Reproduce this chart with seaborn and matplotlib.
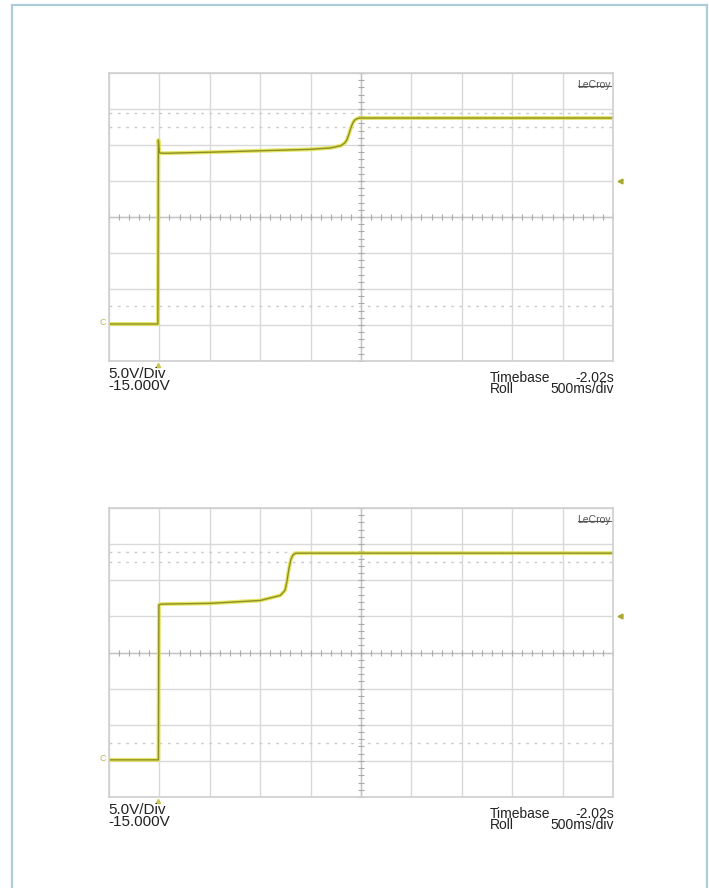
import numpy as np
import matplotlib
matplotlib.use("Agg")
import matplotlib.pyplot as plt
from matplotlib.patches import Rectangle
import seaborn as sns

sns.set_style("white")
plt.rcParams["font.family"] = ["Liberation Sans", "DejaVu Sans"]

# trace 1 (top screen), time in s, voltage in V
t_top = [0.0, 0.485, 0.49, 0.50, 0.55, 1.0, 1.5, 2.0, 2.2, 2.30, 2.34, 2.36, 2.38, 2.40, 2.42, 2.44, 2.47, 2.5, 5.0]
v_top = [0.14, 0.14, 25.7, 23.9, 23.85, 24.0, 24.2, 24.4, 24.6, 24.9, 25.3, 25.7, 26.5, 27.4, 28.1, 28.5, 28.7, 28.75, 28.75]

# trace 2 (bottom screen)
t_bot = [0.0, 0.49, 0.495, 0.52, 1.0, 1.5, 1.70, 1.746, 1.765, 1.785, 1.805, 1.825, 1.855, 5.0]
v_bot = [0.14, 0.14, 21.6, 21.7, 21.8, 22.2, 22.9, 23.6, 24.8, 26.6, 27.9, 28.5, 28.75, 28.75]

# cursor / reference dotted levels
ref_top = [29.5, 27.5, 2.6]
ref_bot = [28.9, 27.5, 2.5]
trig_level = 20.0

volts_div = "5.0V/Div"
offset_txt = "-15.000V"
timebase_txt = ("Timebase", "-2.02s")
roll_txt = ("Roll", "500ms/div")

W, H = 709, 888
fig = plt.figure(figsize=(W / 100, H / 100), dpi=100)


def fx(px):
    return px / W


def fy(py):
    return 1 - py / H


# outer light-blue frame
fig.patches.append(Rectangle((fx(12), -0.05), fx(707) - fx(12), fy(5) + 0.05,
                             transform=fig.transFigure, fill=False,
                             edgecolor="#aecbdb", lw=1.6))


def scope(top_px, bot_px, t, v, refs):
    ax = fig.add_axes([fx(109), fy(bot_px), fx(613) - fx(109), fy(top_px) - fy(bot_px)])
    ax.set_xlim(0, 5)
    ax.set_ylim(-5, 35)
    ax.set_xticks(np.arange(0, 5.01, 0.5))
    ax.set_yticks(np.arange(-5, 35.1, 5))
    ax.tick_params(length=0, labelbottom=False, labelleft=False)
    ax.grid(True, color="#d9d9d9", lw=1)
    for s in ax.spines.values():
        s.set_color("#cfcfcf")
        s.set_linewidth(1.2)
    # centre cross with small ticks
    ax.axhline(15, color="#c4c4c4", lw=1)
    ax.axvline(2.5, color="#c4c4c4", lw=1)
    ax.plot(np.arange(0, 5.01, 0.1), np.full(51, 15.0), ls="", marker="|", ms=4, color="#aaaaaa", mew=0.8)
    ax.plot(np.full(41, 2.5), np.arange(-5, 35.1, 1.0), ls="", marker="_", ms=4, color="#aaaaaa", mew=0.8)
    for r in refs:
        ax.axhline(r, color="#cbcbcb", lw=1, ls=(0, (2, 4)))
    # trace
    sns.lineplot(x=t, y=v, ax=ax, color="#e2e24a", lw=2.8, alpha=0.85, estimator=None, sort=False)
    sns.lineplot(x=t, y=v, ax=ax, color="#8e8e26", lw=1.0, estimator=None, sort=False)
    # markers
    ax.text(-0.065, 0.3, "C", color="#b8b860", fontsize=6.5, ha="center", va="center", clip_on=False)
    ax.plot([t[1]], [-5.5], marker="^", ms=3, color="#c8c850", clip_on=False)
    ax.plot([5.07], [trig_level], marker="<", ms=3.5, color="#a8a830", clip_on=False)
    # LeCroy badge
    ax.text(0.996, 0.975, "LeCroy", transform=ax.transAxes, ha="right", va="top",
            fontsize=7.5, color="#555555")
    ax.plot([0.931, 0.996], [0.955, 0.955], transform=ax.transAxes, color="#555555", lw=0.8)
    return ax


scope(73, 361, t_top, v_top, ref_top)
scope(508, 797, t_bot, v_bot, ref_bot)


def labels(y0):
    col = "#222222"
    fig.text(fx(108), fy(y0 + 6), volts_div + "\n" + offset_txt, fontsize=11, color=col,
             va="top", linespacing=0.78)
    kw = dict(fontsize=10, color=col, va="top", linespacing=0.74)
    fig.text(fx(490), fy(y0 + 10), timebase_txt[0] + "\n" + roll_txt[0], **kw)
    fig.text(fx(614), fy(y0 + 10), timebase_txt[1] + "\n" + roll_txt[1], ha="right", multialignment="right", **kw)


labels(361)
labels(797)

fig.savefig("out.png", dpi=100)
